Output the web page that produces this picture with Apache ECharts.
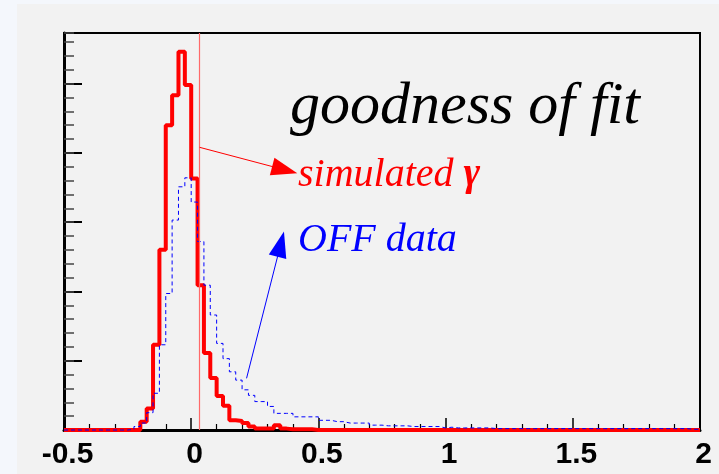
<!DOCTYPE html>
<html><head><meta charset="utf-8">
<script src="https://cdn.jsdelivr.net/npm/echarts@6/dist/echarts.min.js"></script>
<style>html,body{margin:0;padding:0;background:#f4f7fc;}#c{width:719px;height:474px;}</style>
</head><body><div id="c"></div>
<script>
// histogram binning
const binMin = -0.5;
const binWidth = 0.025;
// x tick labels
const xTickValues = [-0.5, 0, 0.5, 1, 1.5, 2];
const xTickLabels = ['-0.5', '0', '0.5', '1', '1.5', '2'];
// simulated gamma (red, thick) - 100 bins from -0.5 to 2
const simulatedGamma = [
  0,0,0,0,0,0,0,0,0,0,
  0,0,12,31,123,260,440,483,546,498,
  363,209,111,75,49,35,14,13,10,5,
  2,2,2,7,2,1,1,1,1,0,
  0,0,0,0,0,0,0,0,0,0,
  0,0,0,0,0,0,0,0,0,0,
  0,0,0,0,0,0,0,0,0,0,
  0,0,0,0,0,0,0,0,0,0,
  0,0,0,0,0,0,0,0,0,0,
  0,0,0,0,0,0,0,0,0,0
];
// OFF data (blue, dashed)
const offData = [
  0,0,0,0,0,0,0,0,0,0,
  1,5,10,25,53,123,197,303,351,364,
  329,272,209,166,125,103,84,72,58,50,
  41,41,34,24,24,24,19,19,19,19,
  14,14,12,12,10,10,10,10,7,7,
  6,6,6,6,5,5,5,5,5,3,
  4,3,3,3,3,3,3,2,2,2,
  2,2,2,2,2,2,2,2,2,2,
  2,2,2,2,2,2,2,2,2,2,
  2,2,2,2,2,2,2,2,1,1
];
// vertical cut line
const cutValue = 0.033;
// annotation arrows (data coords: start, arrow-head centre)
const redArrow = [[0.033, 408], [0.3676, 375.5]];
const blueArrow = [[0.2176, 74.6], [0.352, 268.3]];

function toSteps(vals) {
  const pts = vals.map((v, i) => [binMin + i * binWidth, v]);
  pts.push([binMin + vals.length * binWidth, vals[vals.length - 1]]);
  return pts;
}

const chart = echarts.init(document.getElementById('c'), null, {renderer: 'canvas'});
chart.setOption({
  animation: false,
  backgroundColor: 'transparent',
  grid: {left: 64, right: 19, top: 33, bottom: 44, show: true, backgroundColor: '#f2f2f2', borderColor: '#000', borderWidth: 2},
  xAxis: {
    type: 'value', min: -0.5, max: 2, interval: 0.5,
    axisLine: {show: true, onZero: false, lineStyle: {color: '#000', width: 3}},
    axisTick: {show: true, inside: true, length: 12, lineStyle: {color: '#000', width: 1.5}},
    minorTick: {show: true, splitNumber: 5, length: 6, lineStyle: {color: '#000', width: 1.2}},
    splitLine: {show: false},
    axisLabel: {
      margin: 10, color: '#000', fontSize: 30, fontWeight: 'bold', fontFamily: 'Liberation Sans',
      padding: [0, 0, 0, 7],
      formatter: v => { const i = xTickValues.findIndex(t => Math.abs(t - v) < 1e-9); return i >= 0 ? xTickLabels[i] : ''; }
    }
  },
  yAxis: [{
    type: 'value', min: 0, max: 573, interval: 100,
    axisLine: {show: true, onZero: false, lineStyle: {color: '#000', width: 3}},
    axisTick: {show: true, inside: true, length: 18, lineStyle: {color: '#000', width: 2}},
    axisLabel: {show: false}, splitLine: {show: false}
  }, {
    type: 'value', min: 0, max: 573, interval: 20, position: 'left',
    axisLine: {show: false, onZero: false},
    axisTick: {show: true, inside: true, length: 10, lineStyle: {color: '#444', width: 1.5}},
    axisLabel: {show: false}, splitLine: {show: false}
  }],
  series: [{
    name: 'simulated', type: 'line', step: 'end', showSymbol: false, clip: false, z: 3,
    data: toSteps(simulatedGamma),
    lineStyle: {color: '#ff0000', width: 4},
    markLine: {
      silent: true, symbol: ['none', 'none'], label: {show: false},
      lineStyle: {color: '#ff6a6a', width: 1.2, type: 'solid'},
      data: [{xAxis: cutValue}]
    }
  }, {
    name: 'off', type: 'line', step: 'end', showSymbol: false, clip: false, z: 4,
    data: toSteps(offData),
    lineStyle: {color: '#0000ff', width: 1, type: [4, 3]}
  }, {
    name: 'arrows', type: 'line', data: [], z: 5,
    markLine: {
      silent: true, symbol: ['none', 'triangle'], symbolSize: [18, 26], label: {show: false},
      data: [
        [{coord: redArrow[0], lineStyle: {color: '#ff0000', width: 1, type: 'solid'}, itemStyle: {color: '#ff0000'}},
         {coord: redArrow[1]}],
        [{coord: blueArrow[0], lineStyle: {color: '#0000ff', width: 1, type: 'solid'}, itemStyle: {color: '#0000ff'}},
         {coord: blueArrow[1]}]
      ]
    }
  }],
  graphic: [
    {type: 'rect', z: -100, silent: true, shape: {x: 17, y: 4, width: 702, height: 470}, style: {fill: '#f2f2f2'}},
    {type: 'text', z: 100, x: 290, y: 107, style: {text: 'goodness of fit', fontFamily: 'Liberation Serif', fontStyle: 'italic', fontSize: 60, fill: '#000', verticalAlign: 'middle'}},
    {type: 'text', z: 100, x: 298, y: 175, style: {
      text: '{a|simulated }{b|γ}', verticalAlign: 'middle',
      rich: {a: {fontFamily: 'Liberation Serif', fontStyle: 'italic', fontSize: 40, fill: '#ff0000', color: '#ff0000'},
             b: {fontFamily: 'Liberation Serif', fontStyle: 'italic', fontWeight: 'bold', fontSize: 40, fill: '#ff0000', color: '#ff0000'}}
    }},
    {type: 'text', z: 100, x: 298, y: 240, style: {text: 'OFF data', fontFamily: 'Liberation Serif', fontStyle: 'italic', fontSize: 40, fill: '#0000ff', verticalAlign: 'middle'}}
  ]
});
</script></body></html>
